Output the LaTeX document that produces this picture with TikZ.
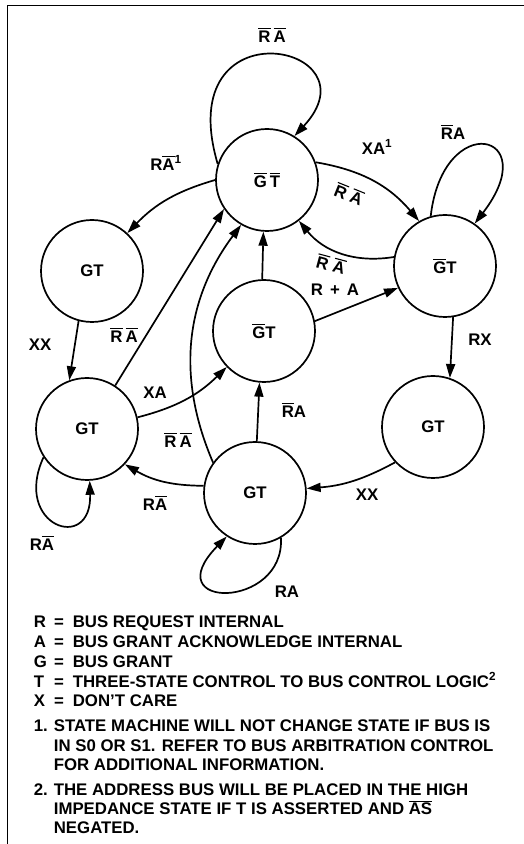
\documentclass[tikz,border=0pt]{standalone}
\usepackage{fontspec}
\setmainfont{Liberation Sans}
\usetikzlibrary{arrows.meta}
\newcommand{\notsig}[1]{\setbox0\hbox{#1}\rlap{\rule[\dimexpr\ht0+1.6pt\relax]{\wd0}{1.1pt}}\box0}
\tikzset{
  st/.style={draw,circle,minimum size=102pt,inner sep=0pt},
  txt/.style={inner sep=0pt},
  tr/.style={-{Triangle[length=14pt,width=9pt]}}
}
\begin{document}
\begin{tikzpicture}[x=1pt,y=1pt,line width=1.7pt,
    font=\fontsize{16.8pt}{20pt}\selectfont\bfseries]
  \useasboundingbox (0,0) rectangle (524,844);
  \draw[line width=1pt] (7,0) -- (7,838) -- (524,838);
  % states
  \foreach \n/\x/\y/\t in {
    n0/267/664/{\notsig{G}\kern3pt\notsig{T}},
    n1/92/573/GT, n2/445/578/{\notsig{G}T}, n3/264/513/{\notsig{G}T},
    n4/87/415/GT, n5/433/417/GT, n6/255/351/GT}
    \node[st] (\n) at (\x,\y) {\t};
  % transitions
  \draw[tr] (n0.162) .. controls (170,842) and (380,800) .. (n0.58);
  \draw[tr] (n0.180) to[bend right=15] (n1.47);
  \draw[tr] (n0.20) to[bend left=20] (n2.120);
  \draw[tr] (n2.170) to[bend left=30] (n0.308);
  \draw[tr] (n2.106) .. controls (443,735) and (545,712) .. (n2.55);
  \draw[tr] (n1.255) -- (n4.110);
  \draw[tr] (n4.57) -- (n0.214);
  \draw[tr] (n4.13) to[bend right=15] (n3.224);
  \draw[tr] (n4.213) .. controls (12,318) and (92,290) .. (n4.273);
  \draw[tr] (n6.144) to[bend left=30] (n0.240);
  \draw[tr] (n3.92) -- (n0.266);
  \draw[tr] (n6.88) -- (n3.265);
  \draw[tr] (n3.11) -- (n2.205);
  \draw[tr] (n2.279) -- (n5.71);
  \draw[tr] (n5.223) to[bend left=12] (n6.5);
  \draw[tr] (n6.172) to[bend left=15] (n4.317);
  \draw[tr] (n6.300) .. controls (285,234) and (155,234) .. (n6.237);
  % conditions
  \foreach \n/\x/\y/\t in {
    c1/272/809/{\notsig{R}\kern3pt\notsig{A}},
    c2/166/681/{R\notsig{A}\textsuperscript{1}},
    c3/377/697/{XA\textsuperscript{1}},
    c4/453/712/{\notsig{R}A},
    c5/40/499/XX, c6/124/509/{\notsig{R}\kern3pt\notsig{A}},
    c7/335/554/{R\hspace{7pt}+\hspace{7pt}A},
    c8/155/451/XA, c9/178/404/{\notsig{R}\kern3pt\notsig{A}},
    c10/294/434/{\notsig{R}A}, c11/480/504/RX, c12/367/349/XX,
    c13/155/341/{R\notsig{A}}, c14/42/301/{R\notsig{A}}, c15/287/252/RA}
    \node[txt] (\n) at (\x,\y) {\t};
  \node[txt,rotate=-22] (c16) at (349,650) {\notsig{R}\kern5pt\notsig{A}};
  \node[txt,rotate=-15] (c17) at (331,580) {\notsig{R}\kern5pt\notsig{A}};
  % legend
  \foreach \l/\t [count=\i] in {
    R/BUS REQUEST INTERNAL, A/BUS GRANT ACKNOWLEDGE INTERNAL,
    G/BUS GRANT, T/THREE-STATE CONTROL TO BUS CONTROL LOGIC\textsuperscript{2},
    X/DON'T CARE}
  {
    \node[txt,anchor=base west] (k\i) at (33,{216-19.75*(\i-1)}) {\l};
    \node[txt,anchor=base] (e\i) at (59,{216-19.75*(\i-1)}) {=};
    \node[txt,anchor=base west] (d\i) at (72,{216-19.75*(\i-1)}) {\t};
  }
  \node[txt,anchor=base west] (m1) at (33,112) {1.};
  \node[txt,anchor=base west] (m2) at (33,48) {2.};
  \foreach \y/\t [count=\i] in {
    112/STATE MACHINE WILL NOT CHANGE STATE IF BUS IS,
    92/IN S0 OR S1. REFER TO BUS ARBITRATION CONTROL,
    73/FOR ADDITIONAL INFORMATION.,
    48/THE ADDRESS BUS WILL BE PLACED IN THE HIGH,
    29/{IMPEDANCE STATE IF T IS ASSERTED AND \notsig{AS}},
    10/NEGATED.}
    \node[txt,anchor=base west] (t\i) at (53,\y) {\t};
\end{tikzpicture}
\end{document}
